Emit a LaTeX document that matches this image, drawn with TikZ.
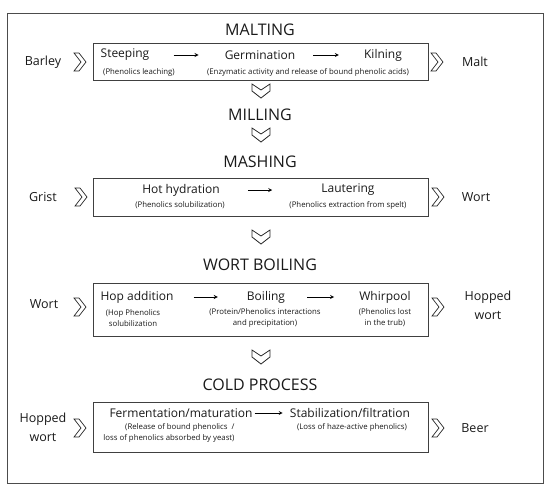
\documentclass[tikz,border=0pt]{standalone}
\usepackage{fontspec}
\setmainfont{Open Sans}
\usetikzlibrary{arrows,positioning,shapes}

\tikzset{
  stage/.style={font=\fontsize{16}{18}\selectfont, text=black!90},
  procbox/.style={draw=black!75, line width=0.8pt, minimum width=335pt},
  io/.style={font=\fontsize{12.5}{19}\selectfont, align=center, text=black!90},
  stepname/.style={font=\fontsize{12}{14}\selectfont, inner sep=0pt, text=black!90},
  stepnote/.style={font=\fontsize{7.8}{11}\selectfont, inner sep=0pt, text=black!90},
  flow/.style={->, >=stealth, line width=0.8pt},
  rchev/.pic={\draw[line width=0.7pt, black!85, line join=miter] (-6,-9) -- (-1,-9) -- (6,0) -- (-1,9) -- (-6,9) -- (1,0) -- cycle;},
  dchev/.pic={\draw[line width=0.8pt, black!85, line join=miter] (-9,-7) -- (0,-1) -- (9,-7) -- (9,0) -- (0,7) -- (-9,0) -- cycle;}
}

\begin{document}
\begin{tikzpicture}[x=1pt, y=-1pt]
  \useasboundingbox (0,0) rectangle (550,493);
  \draw[black!70, line width=0.8pt] (7,13) rectangle (543,483);

  % malting
  \node[stage] (malting) at (260,30) {MALTING};
  \node[procbox, minimum height=37pt] (maltbox) at (261,61.5) {};
  \node[io] (barley) at (43,62) {Barley};
  \node[io] (malt) at (475,62) {Malt};
  \pic at (80,62) {rchev};
  \pic at (437,62) {rchev};
  \node[stepname] (steep) at (125,55) {Steeping};
  \node[stepnote] (steepnote) at (139,72) {(Phenolics leaching)};
  \node[stepname] (germ) at (260,55) {Germination};
  \node[stepname] (kiln) at (383,55) {Kilning};
  \node[stepnote] (germnote) at (308,72) {(Enzymatic activity and release of bound phenolic acids)};
  \draw[flow, shorten <=24pt, shorten >=26pt] (steep) -- (germ);
  \draw[flow, shorten <=18pt, shorten >=25pt] (germ) -- (kiln);
  \pic at (261,91) {dchev};

  % milling
  \node[stage] (milling) at (260,115) {MILLING};
  \pic at (261,135) {dchev};

  % mashing
  \node[stage] (mashing) at (260,162) {MASHING};
  \node[procbox, minimum height=38pt] (mashbox) at (260.5,197) {};
  \node[io] (grist) at (43,197) {Grist};
  \node[io] (wort) at (476,197) {Wort};
  \pic at (81,197) {rchev};
  \pic at (438,197) {rchev};
  \node[stepname] (hydr) at (181,190) {Hot hydration};
  \node[stepnote] (hydrnote) at (180,205) {(Phenolics solubilization)};
  \node[stepname] (lauter) at (348,190) {Lautering};
  \node[stepnote] (lauternote) at (348,205) {(Phenolics extraction from spelt)};
  \draw[flow, shorten <=28pt, shorten >=49pt] (hydr) -- (lauter);
  \pic at (261,237) {dchev};

  % wort boiling
  \node[stage] (boiling) at (260,265) {WORT BOILING};
  \node[procbox, minimum height=53pt] (boilbox) at (260.5,309.5) {};
  \node[io] (wortin) at (44,304) {Wort};
  \node[io] (hopped) at (488,305) {Hopped\\wort};
  \pic at (80,307) {rchev};
  \pic at (438,307) {rchev};
  \node[stepname] (hop) at (137,297) {Hop addition};
  \node[stepnote, align=center] (hopnote) at (133,318) {(Hop Phenolics\\solubilization};
  \node[stepname] (boil) at (266,297) {Boiling};
  \node[stepnote, align=center] (boilnote) at (265,318) {(Protein/Phenolics interactions\\and precipitation)};
  \node[stepname] (whirl) at (385,297) {Whirpool};
  \node[stepnote, align=center] (whirlnote) at (385,318) {(Phenolics lost\\in the trub)};
  \draw[flow, shorten <=20pt, shorten >=29pt] (hop) -- (boil);
  \draw[flow, shorten <=22pt, shorten >=25pt] (boil) -- (whirl);
  \pic at (261,357) {dchev};

  % cold process
  \node[stage] (cold) at (260,385) {COLD PROCESS};
  \node[procbox, minimum height=50pt] (coldbox) at (260.5,427) {};
  \node[io] (hoppedin) at (43,427) {Hopped\\wort};
  \node[io] (beer) at (475,428) {Beer};
  \pic at (80,428) {rchev};
  \pic at (438,428) {rchev};
  \node[stepname] (ferm) at (181,413) {Fermentation/maturation};
  \node[stepnote, align=right] (fermnote) at (169,433) {(Release of bound phenolics~~/\\loss of phenolics absorbed by yeast)};
  \node[stepname] (stab) at (350,413) {Stabilization/filtration};
  \node[stepnote] (stabnote) at (352,427) {(Loss of haze-active phenolics)};
  \draw[flow, shorten <=2pt, shorten >=7pt] (ferm) -- (stab);
\end{tikzpicture}
\end{document}
